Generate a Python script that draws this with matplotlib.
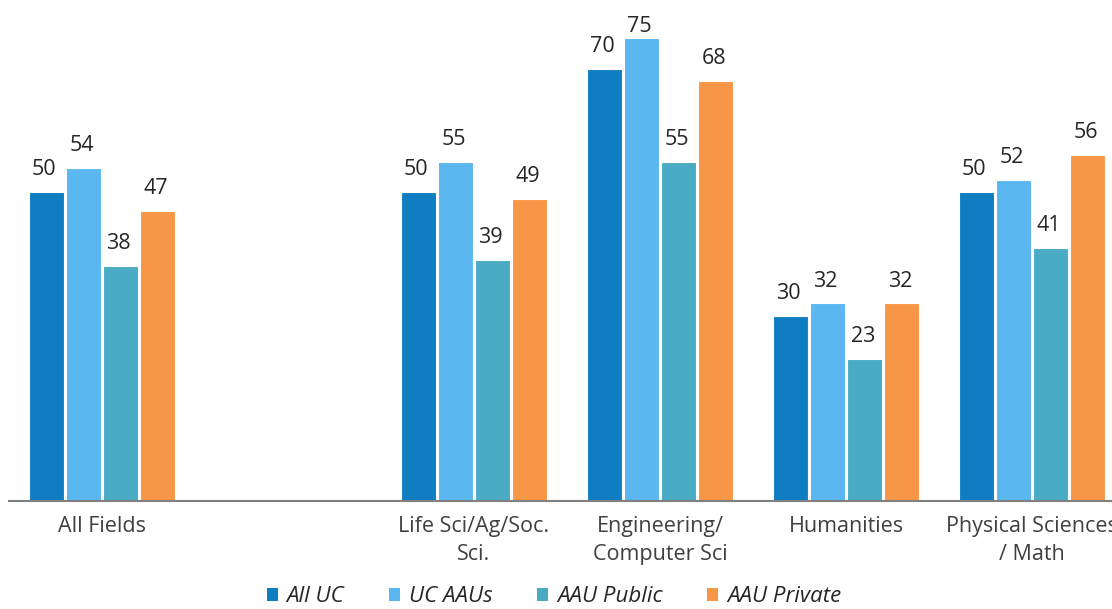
import matplotlib.pyplot as plt
import numpy as np
from matplotlib.patches import Patch

categories = ["All Fields", "", "Life Sci/Ag/Soc.\nSci.", "Engineering/\nComputer Sci", "Humanities", "Physical Sciences\n/ Math"]
series = ["All UC", "UC AAUs", "AAU Public", "AAU Private"]
all_uc = [50, None, 50, 70, 30, 50]
uc_aaus = [54, None, 55, 75, 32, 52]
aau_public = [38, None, 39, 55, 23, 41]
aau_private = [47, None, 49, 68, 32, 56]
colors = ["#0F7DC2", "#5AB7F0", "#4AABC5", "#F79646"]

plt.rcParams['font.family'] = ['Open Sans', 'DejaVu Sans']
fig = plt.figure(figsize=(11.12, 6.09), dpi=100)
# axes extends beyond right edge (clipped like the reference)
left = 9 / 1112
width = (6 * 186) / 1112
ax = fig.add_axes([left, 108 / 609, width, 495 / 609])

x = np.arange(len(categories))
bw = 0.19
step = 0.2
ymax = 80.2
data = [all_uc, uc_aaus, aau_public, aau_private]
for i, (vals, c) in enumerate(zip(data, colors)):
    off = (i - 1.5) * step
    for xi, v in zip(x, vals):
        if v is None:
            continue
        ax.bar(xi + off, v, width=bw, color=c, edgecolor='white', linewidth=0.8)
        ax.text(xi + off - 0.01, min(v + 2.75, ymax - 4.2), str(v), ha='center',
                va='baseline', fontsize=15.5, color='#262626')

ax.set_xlim(-0.5, len(categories) - 0.5)
ax.set_ylim(0, ymax)
ax.set_xticks(x)
ax.set_xticklabels(categories, fontsize=15.5, color='#404040', linespacing=1.4)
ax.tick_params(axis='x', length=0, pad=11)
ax.set_yticks([])
for s in ['top', 'right', 'left']:
    ax.spines[s].set_visible(False)
ax.spines['bottom'].set_color('#808080')
ax.spines['bottom'].set_linewidth(1.5)

handles = [Patch(facecolor=c, edgecolor='none') for c in colors]
fig.legend(handles, series, loc='center', bbox_to_anchor=(554 / 1112, 1 - 597 / 609),
           ncol=4, frameon=False, prop={'style': 'italic', 'size': 16},
           handlelength=0.5, handleheight=0.5, handletextpad=0.4, columnspacing=2.0,
           labelcolor='#262626', borderpad=0.1)

fig.savefig("out.png", dpi=100)
